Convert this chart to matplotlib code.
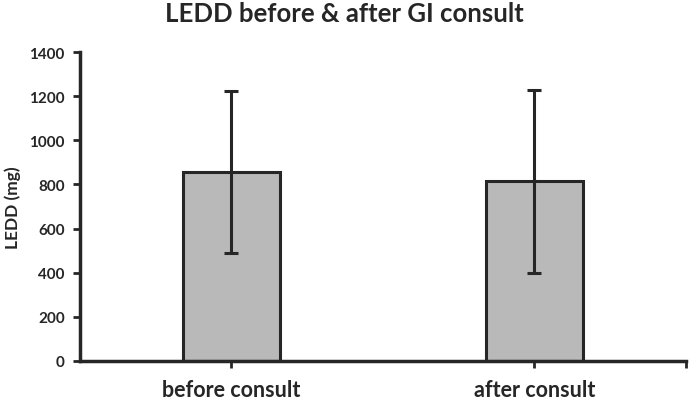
import matplotlib.pyplot as plt

# Data
categories = ["before consult", "after consult"]
ledd_mean = [855, 815]
ledd_sd = [368, 415]

dark = "#262626"
plt.rcParams['font.family'] = ['Lato', 'DejaVu Sans']
plt.rcParams['font.weight'] = 'bold'

fig = plt.figure(figsize=(6.89, 4.02), dpi=100)
ax = fig.add_axes([0.1161, 0.1002, 0.8795, 0.7672])

x = list(range(len(categories)))
ax.bar(x, ledd_mean, width=0.32, color="#b9b9b9", edgecolor=dark, linewidth=2.2, zorder=2)
ax.errorbar(x, ledd_mean, yerr=ledd_sd, fmt='none', ecolor=dark, elinewidth=2.2,
            capsize=5, capthick=2.2, zorder=3)

ax.set_xlim(-0.5, 1.5)
ax.set_ylim(0, 1400)
ax.set_yticks(range(0, 1401, 200))
ax.set_xticks(x)
ax.set_xticklabels(categories, fontsize=15.5, fontweight='bold', color=dark)
ax.set_xticks([1.5], minor=True)
ax.tick_params(axis='x', which='both', direction='out', length=5, width=2, color=dark, pad=8)
ax.tick_params(axis='y', direction='out', length=5, width=2, color=dark, labelsize=11,
               labelcolor=dark, pad=6)
for lbl in ax.get_yticklabels():
    lbl.set_fontweight('bold')

for side in ['top', 'right']:
    ax.spines[side].set_visible(False)
for side in ['left', 'bottom']:
    ax.spines[side].set_linewidth(2.5)
    ax.spines[side].set_color(dark)

ax.set_ylabel("LEDD (mg)", fontsize=12.5, fontweight='bold', color=dark, labelpad=6)
fig.suptitle("LEDD before & after GI consult", fontsize=18.5, fontweight='bold',
             color=dark, y=0.995)

fig.savefig("out.png", dpi=100)
